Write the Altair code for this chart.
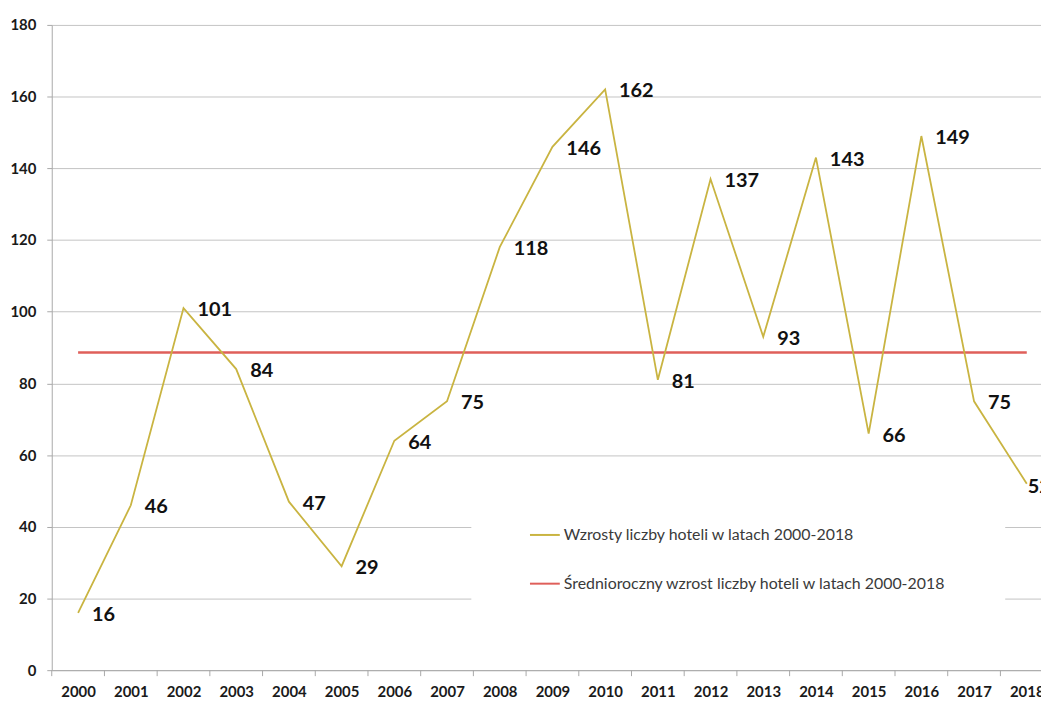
import altair as alt
import pandas as pd

years = list(range(2000, 2019))
values = [16, 46, 101, 84, 47, 29, 64, 75, 118, 146, 162, 81, 137, 93, 143, 66, 149, 75, 52]
series_names = [
    "Wzrosty liczby hoteli w latach 2000-2018",
    "Średnioroczny wzrost liczby hoteli w latach 2000-2018",
]
y_ticks = [0, 20, 40, 60, 80, 100, 120, 140, 160, 180]

YELLOW = "#c9b441"
RED = "#df5f5a"
GRID = "#c4c4c4"
AXIS = "#a8a8a8"
FONT = "Lato"

df = pd.DataFrame({"year": years, "value": values})

xscale = alt.Scale(domain=[1999.5, 2018.27], nice=False, zero=False)
yscale = alt.Scale(domain=[0, 180], nice=False, zero=True)

xaxis = alt.Axis(
    values=years, format="d", ticks=False, grid=False, title=None,
    labelFont=FONT, labelFontWeight="bold", labelFontSize=15, labelColor="#1a1a1a",
    labelPadding=14, labelFlush=False, labelOverlap=False,
    domainColor=AXIS, domainWidth=1,
)
yaxis = alt.Axis(
    values=y_ticks, format="d", title=None, grid=True, gridColor=GRID, gridWidth=1,
    tickSize=5, tickColor=AXIS, domainColor=AXIS, domainWidth=1,
    labelFont=FONT, labelFontWeight="bold", labelFontSize=15, labelColor="#1a1a1a",
    labelPadding=11,
)

color = alt.Color(
    "series:N",
    scale=alt.Scale(domain=series_names, range=[YELLOW, RED]),
    legend=alt.Legend(
        title=None, orient="none", legendX=422, legendY=439,
        fillColor="white", padding=58, symbolType="stroke", symbolSize=900,
        symbolStrokeWidth=2, labelFont=FONT, labelFontSize=16, labelColor="#3a3a3a",
        labelLimit=800, rowPadding=25, labelOffset=3, direction="vertical",
    ),
)

base = alt.Chart(df)

ticks = base.transform_calculate(b="datum.year - 0.5").mark_rule(
    color=AXIS, strokeWidth=1
).encode(
    x=alt.X("b:Q", scale=xscale, axis=xaxis),
    y=alt.value(649), y2=alt.value(655),
)

mean_line = base.transform_joinaggregate(mean="mean(value)").transform_calculate(
    series=f"'{series_names[1]}'"
).mark_line(strokeWidth=2.5).encode(
    x=alt.X("year:Q", scale=xscale, axis=xaxis),
    y=alt.Y("mean:Q", scale=yscale, axis=yaxis),
    color=color,
)

line = base.transform_calculate(
    series=f"'{series_names[0]}'"
).mark_line(strokeWidth=1.8).encode(
    x=alt.X("year:Q", scale=xscale, axis=xaxis),
    y=alt.Y("value:Q", scale=yscale, axis=yaxis),
    color=color,
)

label_enc = dict(
    x=alt.X("year:Q", scale=xscale, axis=xaxis),
    y=alt.Y("value:Q", scale=yscale, axis=yaxis),
    text="value:Q",
)

labels = base.transform_filter(alt.datum.year < 2018).mark_text(
    align="left", baseline="middle", dx=14, dy=2,
    font=FONT, fontSize=20, fontWeight="bold", color="#111111",
).encode(**label_enc)

last_label = base.transform_filter(alt.datum.year == 2018).mark_text(
    align="left", baseline="middle", dx=1, dy=3,
    font=FONT, fontSize=20, fontWeight="bold", color="#111111",
).encode(**label_enc)

chart = alt.layer(ticks, mean_line, line, labels, last_label).properties(
    width=995, height=649,
    autosize=alt.AutoSizeParams(type="none"),
    padding={"left": 44, "top": 15, "right": 0, "bottom": 30},
    background="white",
).configure_view(stroke=None)

chart.save("out.html", embed_options={"renderer": "svg", "actions": False})
